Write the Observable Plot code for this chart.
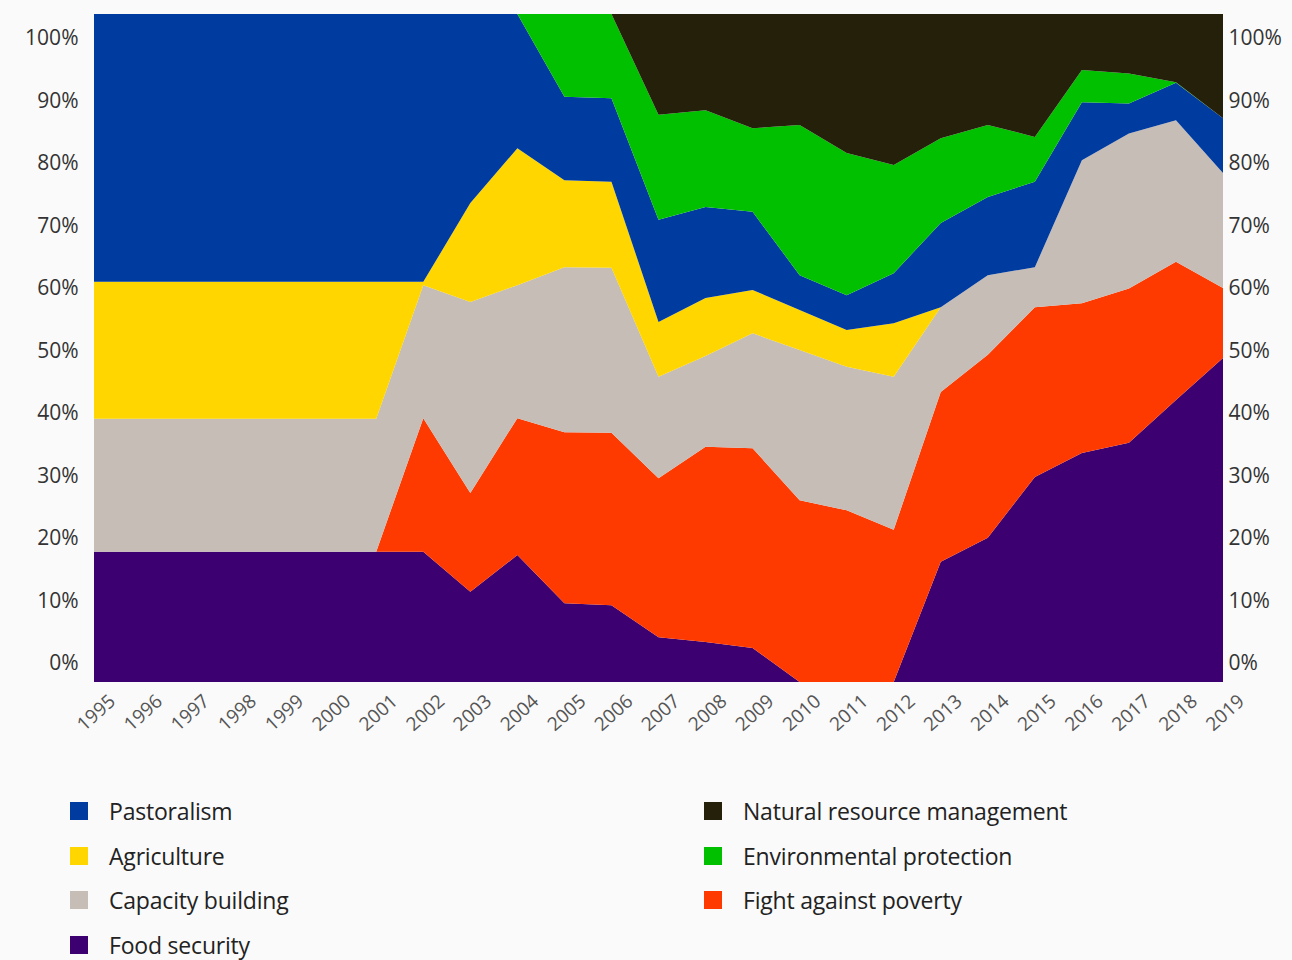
<!DOCTYPE html>
<html><head><meta charset="utf-8">
<script src="https://cdn.jsdelivr.net/npm/d3@7"></script>
<script src="https://cdn.jsdelivr.net/npm/@observablehq/plot@0.6"></script>
<style>
body{margin:0;background:#fafafa;font-family:"Open Sans",sans-serif;}
#wrap{position:relative;width:1292px;height:960px;overflow:hidden;}
#wrap svg{position:absolute;left:0;top:0;background:transparent;}
#legend{position:absolute;left:70px;top:789px;display:grid;grid-template-columns:634px 440px;grid-template-rows:repeat(4,44.5px);grid-auto-flow:column;}
.item{display:flex;align-items:center;font-size:23px;color:#222;letter-spacing:-0.2px;}
.sw{width:18px;height:18px;margin-right:21px;flex:none;}
</style></head><body><div id="wrap"><div id="legend"></div></div>
<script>
const years = [1995,1996,1997,1998,1999,2000,2001,2002,2003,2004,2005,2006,2007,2008,2009,2010,2011,2012,2013,2014,2015,2016,2017,2018,2019];
const yTicks = [0,10,20,30,40,50,60,70,80,90,100];

// stacked from bottom to top
const seriesNames = ["Food security","Fight against poverty","Capacity building","Agriculture","Pastoralism","Environmental protection","Natural resource management"];
const seriesColors = ["#3d0070","#ff3a00","#c6bdb7","#ffd600","#003ba0","#00c000","#242009"];

const foodSecurity = [19.5,19.5,19.5,19.5,19.5,19.5,19.5,19.5,13.5,19.0,11.8,11.5,6.7,6.0,5.1,0,0,0,18.0,21.6,30.7,34.3,35.8,42.2,48.5];
const fightAgainstPoverty = [0,0,0,0,0,0,0,20.0,14.8,20.5,25.6,25.8,23.8,29.2,29.9,27.2,25.7,22.8,25.4,27.4,25.4,22.4,23.1,20.7,10.5];
const capacityBuilding = [19.9,19.9,19.9,19.9,19.9,19.9,19.9,19.9,28.6,19.9,24.7,24.7,15.2,13.6,17.2,22.5,21.5,22.9,12.7,11.9,6.0,21.4,23.2,21.2,17.2];
const agriculture = [20.5,20.5,20.5,20.5,20.5,20.5,20.5,0.5,14.8,20.5,13.0,12.9,8.2,8.7,6.5,6.0,5.5,8.0,0,0,0,0,0,0,0];
const pastoralism = [40.1,40.1,40.1,40.1,40.1,40.1,40.1,40.1,28.3,20.1,12.5,12.5,15.3,13.6,11.7,5.2,5.2,7.5,12.6,11.7,12.8,8.7,4.5,5.6,8.2];
const environmentalProtection = [0,0,0,0,0,0,0,0,0,0,12.4,12.6,15.7,14.5,12.5,22.5,21.3,16.2,12.7,10.8,6.7,4.8,4.5,0.1,0];
const naturalResourceManagement = [0,0,0,0,0,0,0,0,0,0,0,0,15.1,14.4,17.1,16.6,20.8,22.6,18.6,16.6,18.4,8.4,8.9,10.2,15.6];

const seriesValues = [foodSecurity,fightAgainstPoverty,capacityBuilding,agriculture,pastoralism,environmentalProtection,naturalResourceManagement];

// legend order (two columns)
const legendOrder = ["Pastoralism","Agriculture","Capacity building","Food security","Natural resource management","Environmental protection","Fight against poverty"];

const data = [];
seriesNames.forEach((name, i) => {
  years.forEach((yr, j) => data.push({series: name, year: yr, value: seriesValues[i][j]}));
});

const W = 1292, H = 740;

const chart = Plot.plot({
  width: W, height: H,
  marginLeft: 94, marginRight: 69, marginTop: 14, marginBottom: 58,
  style: {background: "transparent", fontFamily: "'Open Sans', sans-serif"},
  x: {domain: [1995, 2019], axis: null},
  y: {domain: [0, 100], axis: null},
  color: {domain: seriesNames, range: seriesColors},
  marks: [
    Plot.areaY(data, {x: "year", y: "value", z: "series", fill: "series", curve: "linear"}),
    Plot.axisX({ticks: years, tickFormat: d => String(d), label: null, tickRotate: -42, tickSize: 0, tickPadding: 16, dx: 18, fontSize: 19, fill: "#555"})
  ]
});

const axes = Plot.plot({
  width: W, height: H,
  marginLeft: 94, marginRight: 69, marginTop: 38, marginBottom: 77,
  style: {background: "transparent", fontFamily: "'Open Sans', sans-serif"},
  x: {domain: [1995, 2019], axis: null},
  y: {domain: [0, 100], axis: null},
  marks: [
    Plot.axisY({anchor: "left", ticks: yTicks, label: null, tickSize: 0, tickPadding: 16, tickFormat: d => d + "%", fontSize: 21, fill: "#333"}),
    Plot.axisY({anchor: "right", ticks: yTicks, label: null, tickSize: 0, tickPadding: 5, tickFormat: d => d + "%", fontSize: 21, fill: "#333"})
  ]
});

const wrap = document.getElementById("wrap");
wrap.appendChild(chart);
wrap.appendChild(axes);

const legend = document.getElementById("legend");
legendOrder.forEach(name => {
  const item = document.createElement("div");
  item.className = "item";
  const sw = document.createElement("span");
  sw.className = "sw";
  sw.style.background = seriesColors[seriesNames.indexOf(name)];
  item.appendChild(sw);
  item.appendChild(document.createTextNode(name));
  legend.appendChild(item);
});
</script></body></html>
